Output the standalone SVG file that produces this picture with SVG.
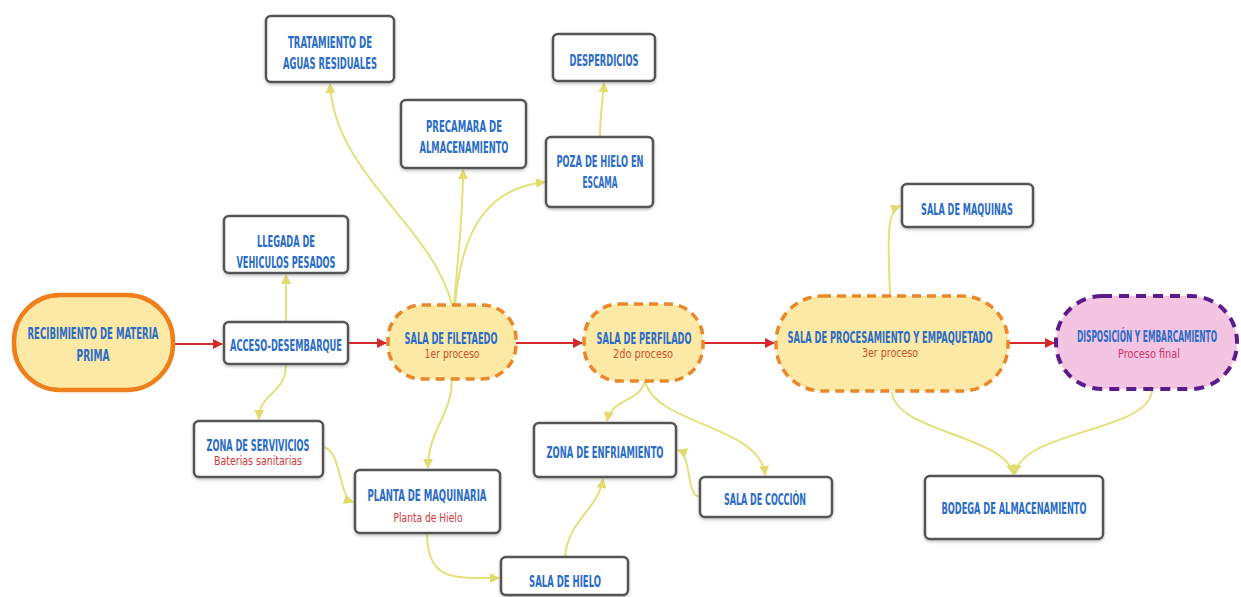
<svg xmlns="http://www.w3.org/2000/svg" width="1241" height="597" viewBox="0 0 1241 597">
<style>
.t{font-family:"DejaVu Sans Condensed","Liberation Sans Narrow","DejaVu Sans",sans-serif;font-stretch:condensed;font-weight:bold;font-size:15.5px;fill:#2a6cc6;text-anchor:middle}
.s{font-family:"DejaVu Sans Condensed","Liberation Sans Narrow","DejaVu Sans",sans-serif;font-stretch:condensed;font-size:11.5px;text-anchor:middle}
.box{fill:#fff;stroke:#545454;stroke-width:2.5}
.pill{fill:#fde9a6;stroke:#e8882b;stroke-width:3.5;stroke-dasharray:9 6}
.red{stroke:#d42a2a;stroke-width:2;fill:none}
.yel{stroke:#e4e07c;stroke-width:2;fill:none}
</style>
<defs>
<marker id="ar" viewBox="0 0 10 10" refX="9" refY="5" markerWidth="12" markerHeight="10" markerUnits="userSpaceOnUse" orient="auto"><path d="M0,0 L10,5 L0,10 z" fill="#d42a2a"/></marker>
<marker id="ay" viewBox="0 0 10 10" refX="9" refY="5" markerWidth="12" markerHeight="10" markerUnits="userSpaceOnUse" orient="auto"><path d="M0,0 L10,5 L0,10 z" fill="#e2dc6e"/></marker>
<filter id="sh" x="-10%" y="-10%" width="120%" height="130%"><feDropShadow dx="0" dy="1.5" stdDeviation="1.5" flood-color="#000" flood-opacity="0.25"/></filter>
</defs>
<rect width="1241" height="597" fill="#fff"/>
<g id="connectors">
<path class="red" d="M175,344 L222,344" marker-end="url(#ar)"/>
<path class="red" d="M348,343 L386,343" marker-end="url(#ar)"/>
<path class="red" d="M516,343 L582,343" marker-end="url(#ar)"/>
<path class="red" d="M703,343 L774,343" marker-end="url(#ar)"/>
<path class="red" d="M1008,343 L1054,343" marker-end="url(#ar)"/>
<path class="yel" d="M286,322 L286,275" marker-end="url(#ay)"/>
<path class="yel" d="M286,364 C286,395 259,392 259,419" marker-end="url(#ay)"/>
<path class="yel" d="M452,305 C432,225 335,175 330,84" marker-end="url(#ay)"/>
<path class="yel" d="M454,305 C458,255 463,215 463,170" marker-end="url(#ay)"/>
<path class="yel" d="M455,305 C462,225 490,188 545,182" marker-end="url(#ay)"/>
<path class="yel" d="M600,137 C600,110 603,100 604,83" marker-end="url(#ay)"/>
<path class="yel" d="M452,379 C452,415 428,430 428,468" marker-end="url(#ay)"/>
<path class="yel" d="M323,447 C342,450 338,497 353,502" marker-end="url(#ay)"/>
<path class="yel" d="M427,533 C427,582 455,578 499,578" marker-end="url(#ay)"/>
<path class="yel" d="M565,557 C568,520 598,510 603,479" marker-end="url(#ay)"/>
<path class="yel" d="M645,381 C640,402 612,398 607,421" marker-end="url(#ay)"/>
<path class="yel" d="M645,381 C655,425 760,425 765,475" marker-end="url(#ay)"/>
<path class="yel" d="M700,497 C686,497 692,455 678,450" marker-end="url(#ay)"/>
<path class="yel" d="M890,295 C888,240 886,212 900,206" marker-end="url(#ay)"/>
<path class="yel" d="M892,392 C895,432 1005,435 1013,474" marker-end="url(#ay)"/>
<path class="yel" d="M1152,390 C1150,432 1022,430 1015,474" marker-end="url(#ay)"/>
</g>
<g id="recibimiento">
<rect x="14" y="295" width="159" height="95" rx="46" fill="#fde9a6" stroke="#ee7f1a" stroke-width="4.5"/>
<text class="t" x="93" y="339" textLength="131" lengthAdjust="spacingAndGlyphs">RECIBIMIENTO DE MATERIA</text>
<text class="t" x="93" y="361" textLength="33" lengthAdjust="spacingAndGlyphs">PRIMA</text>
</g>
<g id="acceso">
<rect class="box" x="224" y="322" width="124" height="42" rx="5" filter="url(#sh)"/>
<text class="t" x="286" y="350.5" textLength="112" lengthAdjust="spacingAndGlyphs">ACCESO-DESEMBARQUE</text>
</g>
<g id="llegada">
<rect class="box" x="224" y="216" width="124" height="57" rx="5" filter="url(#sh)"/>
<text class="t" x="286" y="246.5" textLength="58" lengthAdjust="spacingAndGlyphs">LLEGADA DE</text>
<text class="t" x="286" y="267.5" textLength="99" lengthAdjust="spacingAndGlyphs">VEHICULOS PESADOS</text>
</g>
<g id="tratamiento">
<rect class="box" x="266" y="16" width="128" height="66" rx="5" filter="url(#sh)"/>
<text class="t" x="330" y="47.5" textLength="84" lengthAdjust="spacingAndGlyphs">TRATAMIENTO DE</text>
<text class="t" x="330" y="68.5" textLength="94" lengthAdjust="spacingAndGlyphs">AGUAS RESIDUALES</text>
</g>
<g id="precamara">
<rect class="box" x="401" y="100" width="125" height="68" rx="5" filter="url(#sh)"/>
<text class="t" x="464" y="131.5" textLength="76" lengthAdjust="spacingAndGlyphs">PRECAMARA DE</text>
<text class="t" x="464" y="152.5" textLength="89" lengthAdjust="spacingAndGlyphs">ALMACENAMIENTO</text>
</g>
<g id="desperdicios">
<rect class="box" x="553" y="34" width="102" height="47" rx="5" filter="url(#sh)"/>
<text class="t" x="604" y="65.5" textLength="69" lengthAdjust="spacingAndGlyphs">DESPERDICIOS</text>
</g>
<g id="poza">
<rect class="box" x="546" y="137" width="107" height="70" rx="5" filter="url(#sh)"/>
<text class="t" x="600" y="166.5" textLength="87" lengthAdjust="spacingAndGlyphs">POZA DE HIELO EN</text>
<text class="t" x="600" y="187.5" textLength="35" lengthAdjust="spacingAndGlyphs">ESCAMA</text>
</g>
<g id="filetaedo">
<rect class="pill" x="388" y="305" width="128" height="74" rx="34"/>
<text class="t" x="451" y="343.5" textLength="93" lengthAdjust="spacingAndGlyphs">SALA DE FILETAEDO</text>
<text class="s" x="452" y="358" fill="#c9502b" textLength="55" lengthAdjust="spacingAndGlyphs">1er proceso</text>
</g>
<g id="perfilado">
<rect class="pill" x="584" y="304" width="119" height="77" rx="35"/>
<text class="t" x="644" y="343.5" textLength="95" lengthAdjust="spacingAndGlyphs">SALA DE PERFILADO</text>
<text class="s" x="643" y="358" fill="#c9502b" textLength="60" lengthAdjust="spacingAndGlyphs">2do proceso</text>
</g>
<g id="procesamiento">
<rect class="pill" x="776" y="296" width="232" height="95" rx="46"/>
<text class="t" x="890" y="342.5" textLength="205" lengthAdjust="spacingAndGlyphs">SALA DE PROCESAMIENTO Y EMPAQUETADO</text>
<text class="s" x="890" y="357" fill="#c9502b" textLength="56" lengthAdjust="spacingAndGlyphs">3er proceso</text>
</g>
<g id="disposicion">
<rect x="1056" y="296" width="181" height="93" rx="46" fill="#f3c5e2" stroke="#5c1a8a" stroke-width="4" stroke-dasharray="10 7"/>
<text class="t" x="1147" y="342" textLength="140" lengthAdjust="spacingAndGlyphs">DISPOSICIÓN Y EMBARCAMIENTO</text>
<text class="s" x="1149" y="358" fill="#d13468" textLength="62" lengthAdjust="spacingAndGlyphs">Proceso final</text>
</g>
<g id="sala-maquinas">
<rect class="box" x="902" y="184" width="131" height="43" rx="5" filter="url(#sh)"/>
<text class="t" x="967" y="214.5" textLength="92" lengthAdjust="spacingAndGlyphs">SALA DE MAQUINAS</text>
</g>
<g id="zona-servicios">
<rect class="box" x="194" y="421" width="129" height="56" rx="5" filter="url(#sh)"/>
<text class="t" x="258" y="450.5" textLength="103" lengthAdjust="spacingAndGlyphs">ZONA DE SERVIVICIOS</text>
<text class="s" x="258" y="464.5" fill="#d4343a" textLength="88" lengthAdjust="spacingAndGlyphs">Baterias sanitarias</text>
</g>
<g id="planta">
<rect class="box" x="355" y="470" width="145" height="63" rx="5" filter="url(#sh)"/>
<text class="t" x="427" y="500.5" textLength="119" lengthAdjust="spacingAndGlyphs">PLANTA DE  MAQUINARIA</text>
<text class="s" x="428" y="521.5" fill="#d4343a" textLength="69" lengthAdjust="spacingAndGlyphs">Planta de Hielo</text>
</g>
<g id="sala-hielo">
<rect class="box" x="501" y="557" width="127" height="38" rx="5" filter="url(#sh)"/>
<text class="t" x="565" y="586.5" textLength="72" lengthAdjust="spacingAndGlyphs">SALA DE HIELO</text>
</g>
<g id="zona-enfriamiento">
<rect class="box" x="534" y="423" width="142" height="54" rx="5" filter="url(#sh)"/>
<text class="t" x="605" y="457.5" textLength="117" lengthAdjust="spacingAndGlyphs">ZONA DE ENFRIAMIENTO</text>
</g>
<g id="sala-coccion">
<rect class="box" x="700" y="477" width="132" height="40" rx="5" filter="url(#sh)"/>
<text class="t" x="765" y="504.5" textLength="82" lengthAdjust="spacingAndGlyphs">SALA DE COCCIÓN</text>
</g>
<g id="bodega">
<rect class="box" x="925" y="476" width="178" height="63" rx="5" filter="url(#sh)"/>
<text class="t" x="1014" y="513.5" textLength="145" lengthAdjust="spacingAndGlyphs">BODEGA DE ALMACENAMIENTO</text>
</g>
</svg>
